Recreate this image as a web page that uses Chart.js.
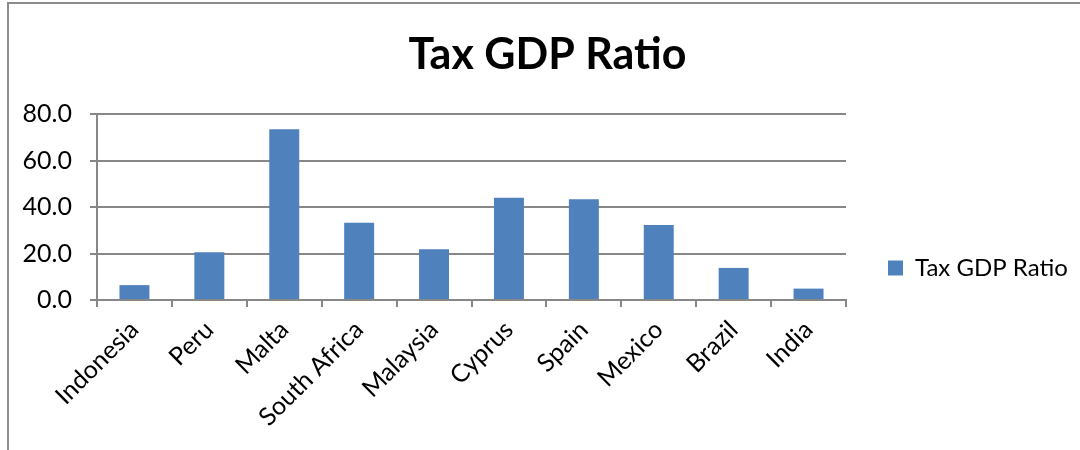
<!DOCTYPE html>
<html>
<head>
<meta charset="utf-8">
<script src="https://cdn.jsdelivr.net/npm/chart.js@4.4.1/dist/chart.umd.min.js"></script>
<style>
  html, body { margin: 0; padding: 0; background: #fff; }
  #wrap { position: relative; width: 1080px; height: 450px; overflow: hidden; }
  #frame { position: absolute; left: 7px; top: 2px; width: 1100px; height: 460px;
           border-left: 2px solid #8c8c8c; border-top: 2px solid #8c8c8c; pointer-events: none; }
  canvas { position: absolute; left: 0; top: 0; }
</style>
</head>
<body>
<div id="wrap">
  <canvas id="c" width="1080" height="450"></canvas>
  <div id="frame"></div>
</div>
<script>
const chartTitle = 'Tax GDP Ratio';
const seriesName = 'Tax GDP Ratio';
const categories = ['Indonesia', 'Peru', 'Malta', 'South Africa', 'Malaysia', 'Cyprus', 'Spain', 'Mexico', 'Brazil', 'India'];
const taxGdpRatio = [6.4, 20.5, 73.4, 33.2, 21.8, 44.0, 43.3, 32.3, 13.8, 4.9];
const yMin = 0, yMax = 80, yStep = 20;

const FONT = 'Lato, "Open Sans", sans-serif';
const GRID = '#878787';

const legendPlacer = {
  id: 'legendPlacer',
  beforeInit(chart) {
    const lg = chart.legend;
    if (lg && !lg._wrapped) {
      const f = lg.fit;
      lg.fit = function () { f.call(this); this.width = 234; };
      lg._wrapped = true;
    }
  },
  afterLayout(chart) {
    const lg = chart.legend;
    const dx = 878 - lg.left;
    lg.left += dx; lg.right += dx;
    const dy = 43;
    lg.top += dy; lg.bottom += dy;
  }
};

new Chart(document.getElementById('c'), {
  type: 'bar',
  data: {
    labels: categories,
    datasets: [{
      label: seriesName,
      data: taxGdpRatio,
      backgroundColor: '#4F81BD',
      borderWidth: 0,
      categoryPercentage: 1.0,
      barPercentage: 0.4
    }]
  },
  options: {
    responsive: false,
    animation: false,
    devicePixelRatio: 1,
    layout: { padding: { left: 15, right: 0, top: 0, bottom: 0 } },
    plugins: {
      title: {
        display: true,
        text: chartTitle,
        color: '#000',
        font: { family: FONT, size: 43, weight: 'bold', lineHeight: 1.2 },
        padding: { top: 29, bottom: 33.4 }
      },
      legend: {
        display: true,
        position: 'right',
        labels: {
          color: '#000',
          font: { family: FONT, size: 24 },
          boxWidth: 15,
          boxHeight: 15,
          padding: 10
        }
      },
      tooltip: { enabled: false }
    },
    scales: {
      x: {
        afterFit(s) { s.height = 150; },
        grid: { display: true, drawOnChartArea: false, drawTicks: true, tickLength: 7, offset: true, color: GRID, lineWidth: 2 },
        border: { display: true, color: GRID, width: 2 },
        ticks: {
          color: '#000',
          font: { family: FONT, size: 25 },
          maxRotation: 45, minRotation: 45,
          autoSkip: false,
          padding: 8
        }
      },
      y: {
        min: yMin, max: yMax,
        afterFit(s) { s.width = 82; },
        grid: { color: GRID, lineWidth: 2, drawTicks: true, tickLength: 7 },
        border: { display: true, color: GRID, width: 2 },
        ticks: {
          stepSize: yStep,
          color: '#000',
          font: { family: FONT, size: 25 },
          padding: 18,
          callback: v => Number(v).toFixed(1)
        }
      }
    }
  },
  plugins: [legendPlacer]
});
</script>
</body>
</html>
